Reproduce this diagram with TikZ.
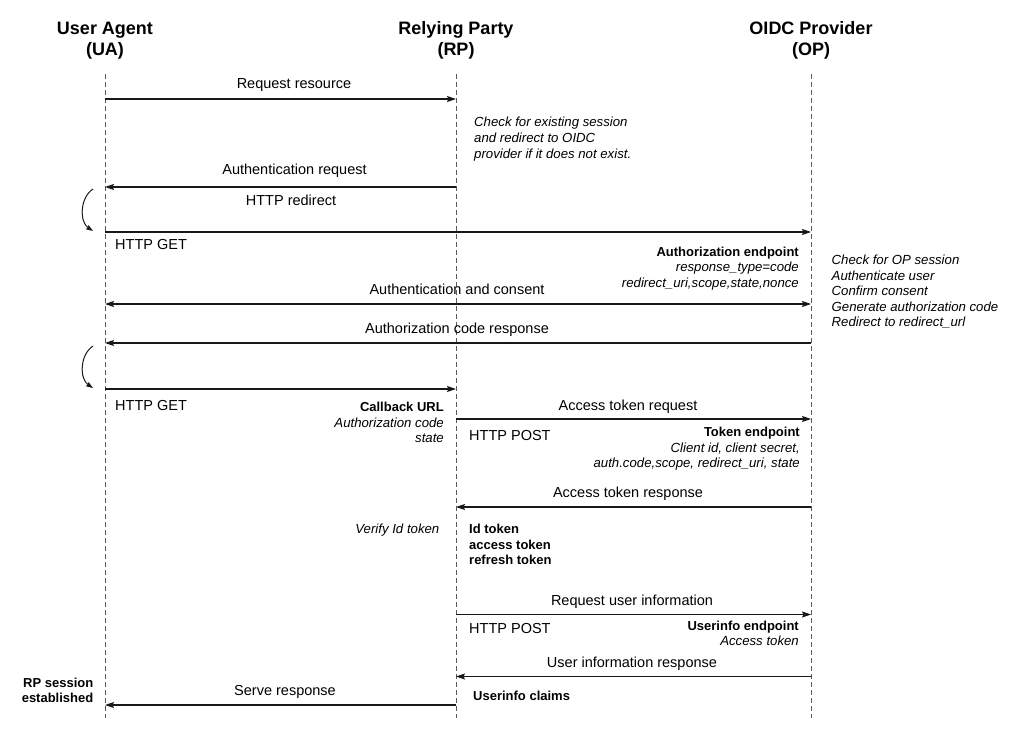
\documentclass[tikz,border=0pt]{standalone}
\usepackage{fontspec}
\setmainfont{Liberation Sans}
\usetikzlibrary{arrows.meta}
\begin{document}
\begin{tikzpicture}[x=1pt,y=-1pt,
  life/.style={draw=black!65, line width=1pt, dash pattern=on 5pt off 3pt},
  tipx/.tip={Stealth[length=9pt,width=6pt,inset=1.5pt]},
  msg/.style={draw=black!90, line width=1.1pt, -tipx},
  dmsg/.style={draw=black!90, line width=1.1pt, tipx-tipx},
  curv/.style={draw=black!90, line width=1pt, -{Stealth[length=7pt,width=5pt,inset=1pt]}},
  hdr/.style={font=\fontsize{18}{21}\selectfont\bfseries, inner sep=0, anchor=base},
  lbl/.style={font=\fontsize{14.5}{17}\selectfont, inner sep=0, anchor=base},
  lbll/.style={lbl, anchor=base west},
  note/.style={font=\fontsize{13.2}{15.7}\selectfont\itshape, inner sep=0},
  notel/.style={note, anchor=base west},
  noter/.style={note, anchor=base east},
  bnote/.style={font=\fontsize{13}{15.5}\selectfont\bfseries, inner sep=0},
  bnotel/.style={bnote, anchor=base west},
  bnoter/.style={bnote, anchor=base east},
]
\useasboundingbox (0,0) rectangle (1009,730);

% headers
\node[hdr] (uaA) at (105,35) {User Agent};
\node[hdr] (uaB) at (105,56) {(UA)};
\node[hdr] (rpA) at (456,35) {Relying Party};
\node[hdr] (rpB) at (456,56) {(RP)};
\node[hdr] (opA) at (811,35) {OIDC Provider};
\node[hdr] (opB) at (811,56) {(OP)};

% lifelines
\coordinate (uaT) at (105,74);  \coordinate (uaE) at (105,718);
\coordinate (rpT) at (456,74);  \coordinate (rpE) at (456,718);
\coordinate (opT) at (811,74);  \coordinate (opE) at (811,718);
\draw[life] (uaT) -- (uaE);
\draw[life] (rpT) -- (rpE);
\draw[life] (opT) -- (opE);

% message end points
\coordinate (ua1) at (105,99);    \coordinate (rp1) at (456,99);
\coordinate (ua2) at (105,187);   \coordinate (rp2) at (456,187);
\coordinate (ua3) at (105,232);   \coordinate (op3) at (811,232);
\coordinate (ua4) at (105,304);   \coordinate (op4) at (811,304);
\coordinate (ua5) at (105,343);   \coordinate (op5) at (811,343);
\coordinate (ua6) at (105,389);   \coordinate (rp6) at (456,389);
\coordinate (rp7) at (456,419);   \coordinate (op7) at (811,419);
\coordinate (rp8) at (456,507);   \coordinate (op8) at (811,507);
\coordinate (rp9) at (456,614.5); \coordinate (op9) at (811,614.5);
\coordinate (rp10) at (456,676.5);\coordinate (op10) at (811,676.5);
\coordinate (ua11) at (105,705);  \coordinate (rp11) at (456,705);

\draw[msg] (ua1) -- (rp1);
\draw[msg] (rp2) -- (ua2);
\draw[msg] (ua3) -- (op3);
\draw[dmsg] (ua4) -- (op4);
\draw[msg] (op5) -- (ua5);
\draw[msg] (ua6) -- (rp6);
\draw[msg] (rp7) -- (op7);
\draw[msg] (op8) -- (rp8);
\draw[msg] (rp9) -- (op9);
\draw[msg] (op10) -- (rp10);
\draw[msg] (rp11) -- (ua11);

% redirect curves
\coordinate (c1s) at (93,189); \coordinate (c1e) at (93,231);
\coordinate (c2s) at (93,346); \coordinate (c2e) at (93,388);
\draw[curv] (c1s) .. controls (79.5,198) and (79.5,222) .. (c1e);
\draw[curv] (c2s) .. controls (79.5,355) and (79.5,379) .. (c2e);

% labels
\node[lbl] (l1) at (294,88.5) {Request resource};
\node[notel] (n1a) at (474,126.7) {Check for existing session};
\node[notel] (n1b) at (474,142.5) {and redirect to OIDC};
\node[notel] (n1c) at (474,158.3) {provider if it does not exist.};
\node[lbl] (l2) at (294.5,175) {Authentication request};
\node[lbl] (l2b) at (291,205.7) {HTTP redirect};
\node[lbll] (l3) at (115,249.5) {HTTP GET};
\node[bnoter] (ae1) at (799,256) {Authorization endpoint};
\node[noter] (ae2) at (799,271.5) {response\_type=code};
\node[noter] (ae3) at (799,287) {redirect\_uri,scope,state,nonce};
\node[notel] (op1) at (831.5,264.5) {Check for OP session};
\node[notel] (op2) at (831.5,280) {Authenticate user};
\node[notel] (op3n) at (831.5,295.5) {Confirm consent};
\node[notel] (op4n) at (831.5,311) {Generate authorization code};
\node[notel] (op5n) at (831.5,326.5) {Redirect to redirect\_url};
\node[lbl] (l4) at (457,294) {Authentication and consent};
\node[lbl] (l5) at (457,333.3) {Authorization code response};
\node[lbll] (l6) at (115,410.7) {HTTP GET};
\node[bnoter] (cb1) at (444,411.7) {Callback URL};
\node[noter] (cb2) at (444,427) {Authorization code};
\node[noter] (cb3) at (444,442.3) {state};
\node[lbl] (l7) at (628,410) {Access token request};
\node[lbll] (l7b) at (469,440) {HTTP POST};
\node[bnoter] (te1) at (800,436.7) {Token endpoint};
\node[noter] (te2) at (800,452.3) {Client id, client secret,};
\node[noter] (te3) at (800,467.7) {auth.code,scope, redirect\_uri, state};
\node[lbl] (l8) at (628,497.5) {Access token response};
\node[noter] (vi) at (439.5,533.5) {Verify Id token};
\node[bnotel] (tk1) at (469,533.5) {Id token};
\node[bnotel] (tk2) at (469,549) {access token};
\node[bnotel] (tk3) at (469,564) {refresh token};
\node[lbl] (l9) at (632,605.7) {Request user information};
\node[lbll] (l9b) at (469,633.3) {HTTP POST};
\node[bnoter] (ue1) at (799,630) {Userinfo endpoint};
\node[noter] (ue2) at (799,645.7) {Access token};
\node[lbl] (l10) at (632,667.3) {User information response};
\node[bnoter] (rs1) at (93.5,687.3) {RP session};
\node[bnoter] (rs2) at (93.5,702) {established};
\node[lbl] (l11) at (285,695) {Serve response};
\node[bnotel] (uc) at (473,700.7) {Userinfo claims};
\end{tikzpicture}
\end{document}
